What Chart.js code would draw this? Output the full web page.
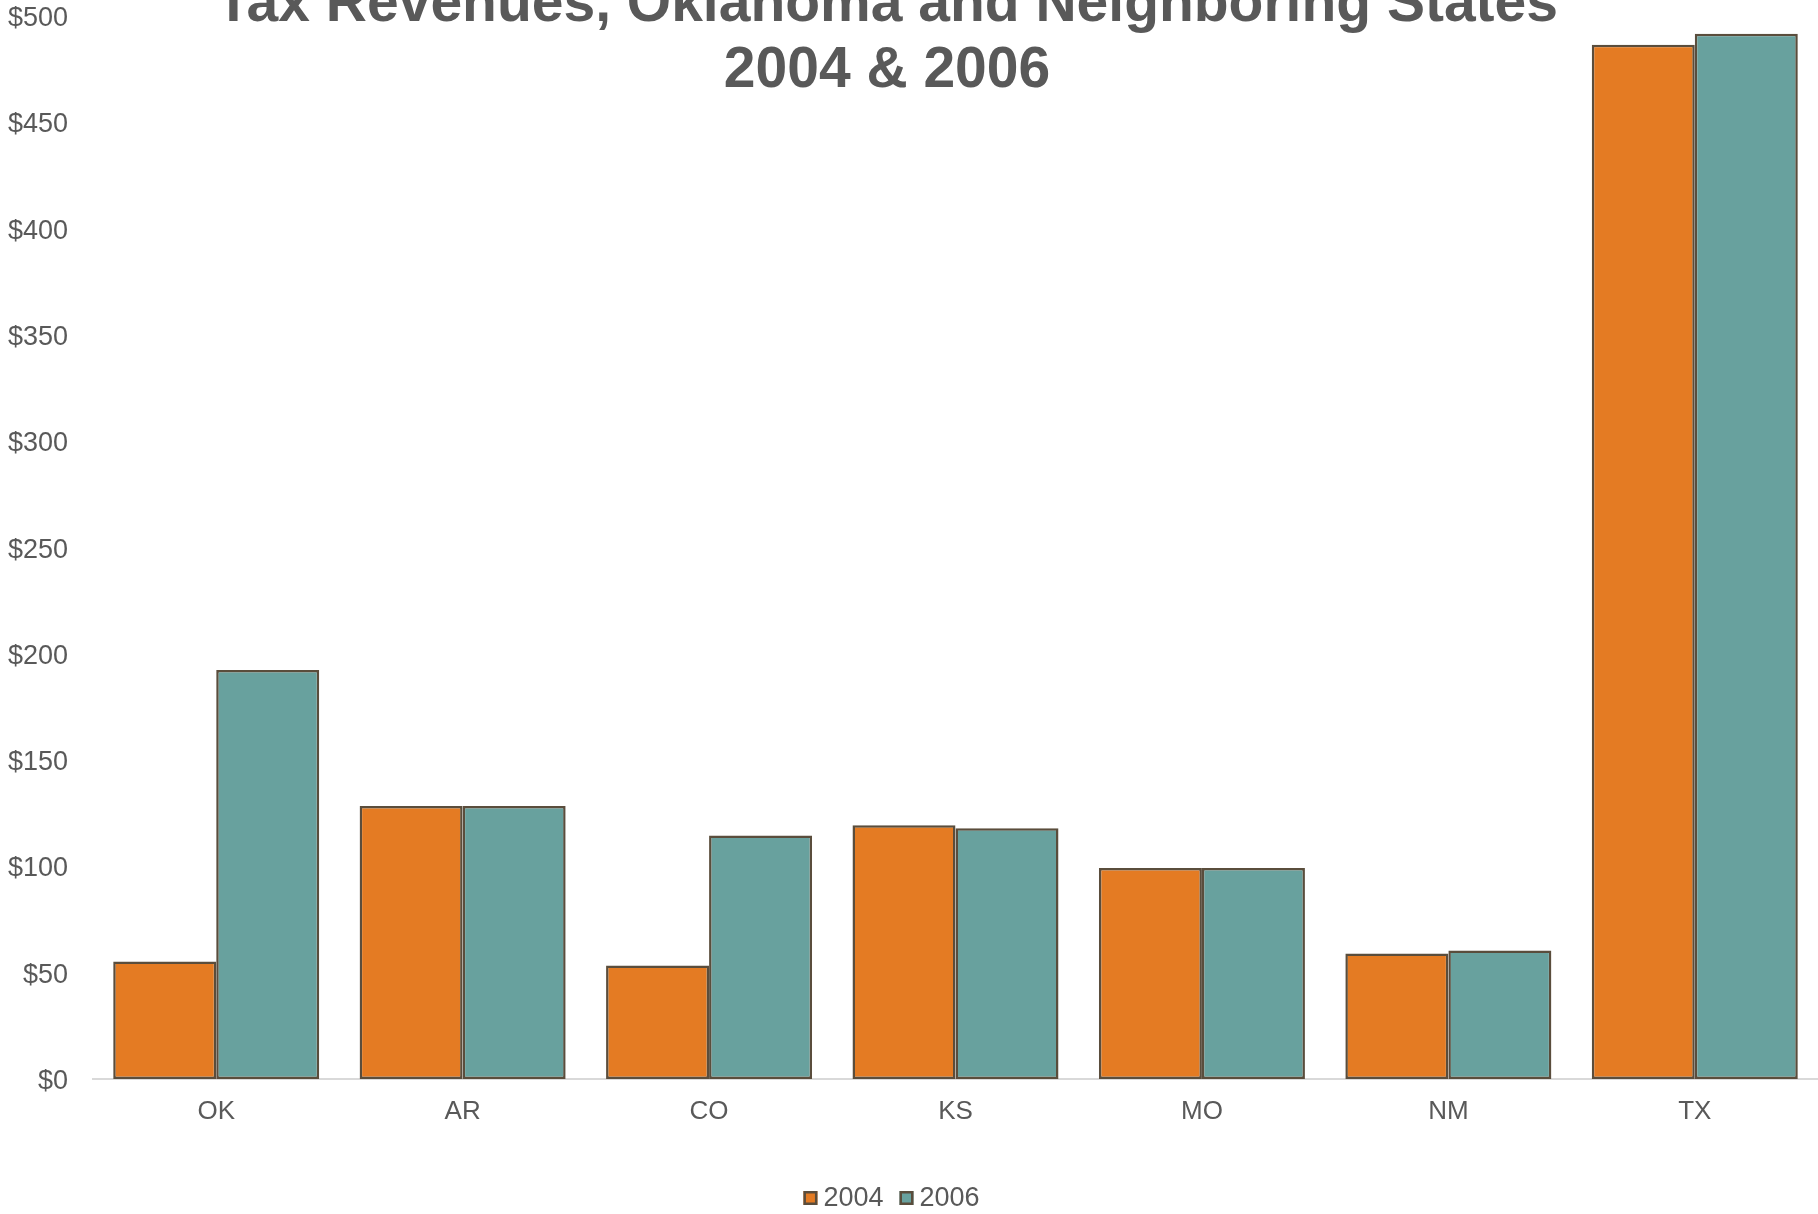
<!DOCTYPE html>
<html>
<head>
<meta charset="utf-8">
<title>Tax Revenues, Oklahoma and Neighboring States 2004 &amp; 2006</title>
<script src="https://cdn.jsdelivr.net/npm/chart.js@4/dist/chart.umd.min.js"></script>
<style>
  html, body { margin: 0; padding: 0; background: #ffffff; }
  #wrap { position: relative; width: 1818px; height: 1214px; }
</style>
</head>
<body>
<div id="wrap"><canvas id="chart"></canvas></div>
<script>
// State codes along the x axis
const states = ['OK', 'AR', 'CO', 'KS', 'MO', 'NM', 'TX'];

// Tax revenues per state (dollars)
const revenue2004 = [55.3, 128.4, 53.4, 119.4, 99.3, 59.1, 486.6];
const revenue2006 = [192.4, 128.4, 114.6, 118.0, 99.3, 60.5, 491.8];

// Series names and chart title lines
const seriesNames = ['2004', '2006'];
const titleLines = ['Tax Revenues, Oklahoma and Neighboring States', '2004 & 2006'];

// Y axis range
const yMin = 0;
const yMax = 500;
const yStep = 50;

const FONT = '"Liberation Sans", Arial, "DejaVu Sans", sans-serif';
const TEXT_COLOR = '#595959';
const EDGE_COLOR = '#5a4d3c';

// Two-line bold title drawn over the top of the chart
const titlePlugin = {
  id: 'overlayTitle',
  afterDraw(chart) {
    const ctx = chart.ctx;
    ctx.save();
    ctx.fillStyle = TEXT_COLOR;
    ctx.font = 'bold 57px ' + FONT;
    ctx.textAlign = 'center';
    ctx.textBaseline = 'alphabetic';
    const cx = 887;
    ctx.fillText(titleLines[0], cx, 21);
    ctx.fillText(titleLines[1], cx, 87);
    ctx.restore();
  }
};

// Compact legend under the axis labels
const legendPlugin = {
  id: 'compactLegend',
  afterDraw(chart) {
    const ctx = chart.ctx;
    ctx.save();
    ctx.font = '27px ' + FONT;
    const box = 14, gap = 6, spacing = 16;
    const items = chart.data.datasets.map(ds => ({
      label: ds.label, fill: ds.backgroundColor, edge: ds.borderColor,
      w: box + gap + ctx.measureText(ds.label).width
    }));
    const total = items.reduce((s, it) => s + it.w, 0) + spacing * (items.length - 1);
    let x = 891.5 - total / 2;
    const cy = 1198;
    items.forEach(it => {
      ctx.fillStyle = it.fill;
      ctx.fillRect(x, cy - box / 2, box, box);
      ctx.strokeStyle = it.edge;
      ctx.lineWidth = 2.5;
      ctx.strokeRect(x + 1.25, cy - box / 2 + 1.25, box - 2.5, box - 2.5);
      ctx.fillStyle = TEXT_COLOR;
      ctx.textAlign = 'left';
      ctx.textBaseline = 'middle';
      ctx.fillText(it.label, x + box + gap, cy + 1);
      x += it.w + spacing;
    });
    ctx.restore();
  }
};

new Chart(document.getElementById('chart'), {
  type: 'bar',
  data: {
    labels: states,
    datasets: [
      {
        label: seriesNames[0],
        data: revenue2004,
        backgroundColor: '#e47b23',
        borderColor: EDGE_COLOR,
        borderWidth: 2.5,
        borderSkipped: false
      },
      {
        label: seriesNames[1],
        data: revenue2006,
        backgroundColor: '#68a19e',
        borderColor: EDGE_COLOR,
        borderWidth: 2.5,
        borderSkipped: false
      }
    ]
  },
  options: {
    responsive: true,
    maintainAspectRatio: false,
    animation: false,
    datasets: {
      bar: { barPercentage: 1.0, categoryPercentage: 0.836 }
    },
    layout: { padding: { top: 16, right: 0, bottom: 0, left: 0 } },
    plugins: {
      legend: { display: false },
      title: { display: false },
      tooltip: { enabled: false }
    },
    scales: {
      x: {
        grid: { display: false, drawTicks: false },
        border: { display: true, color: '#d9d9d9', width: 2 },
        ticks: {
          color: TEXT_COLOR,
          font: { family: FONT, size: 26, lineHeight: 1.2 },
          padding: 17,
          maxRotation: 0
        },
        afterFit(scale) { scale.height = 135; }
      },
      y: {
        min: yMin,
        max: yMax,
        // hidden tick marks keep the labels 25px off the plot edge
        grid: { display: false, drawTicks: true, tickLength: 25 },
        border: { display: false },
        ticks: {
          stepSize: yStep,
          color: TEXT_COLOR,
          font: { family: FONT, size: 27, lineHeight: 1.2 },
          padding: 0,
          labelOffset: 2.5,
          callback: v => '$' + v
        },
        afterFit(scale) { scale.width = 93; }
      }
    }
  },
  plugins: [titlePlugin, legendPlugin]
});
</script>
</body>
</html>
